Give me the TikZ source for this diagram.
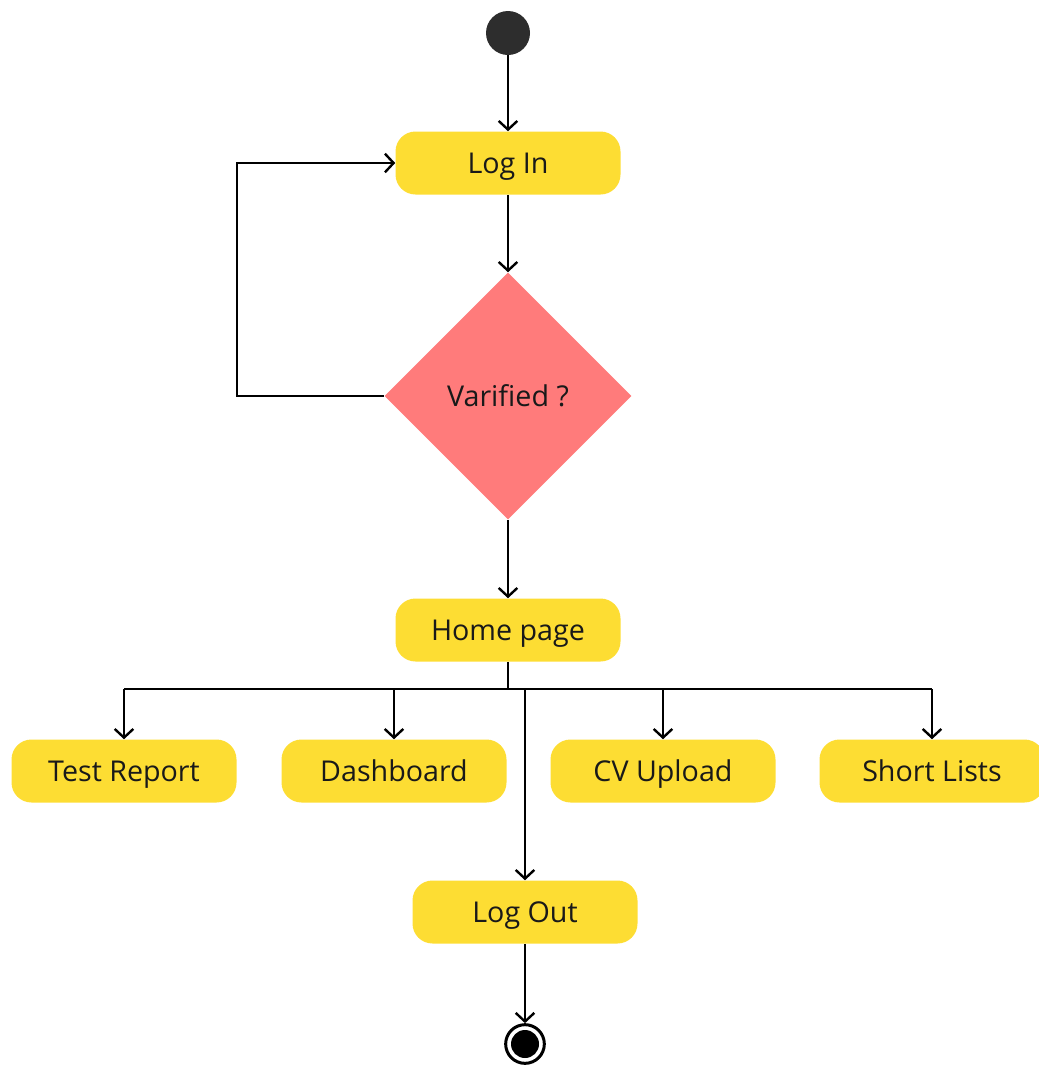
\documentclass[tikz,border=0pt]{standalone}
\usepackage{fontspec}
\setmainfont{Open Sans}
\usetikzlibrary{shapes.geometric, arrows.meta}

\definecolor{stepyellow}{HTML}{FDDD33}
\definecolor{checkred}{HTML}{FF7B7B}
\definecolor{startgray}{HTML}{2D2D2D}

\tikzset{
    stepbox/.style={rectangle, rounded corners=15pt, fill=stepyellow,
        minimum width=168.75pt, minimum height=47.25pt, inner sep=0pt,
        text height=15.2pt, text depth=0pt,
        font=\fontsize{21.5}{26}\selectfont, text=black!90},
    checkbox/.style={diamond, fill=checkred, minimum width=185.25pt,
        minimum height=185.25pt, inner sep=0pt, aspect=1,
        text height=15.2pt, text depth=0pt,
        font=\fontsize{21.5}{26}\selectfont, text=black!90},
    startstate/.style={circle, fill=startgray, minimum size=33pt, inner sep=0pt},
    endstate/.style={circle, draw=black, line width=2.25pt, fill=white,
        minimum size=29pt, inner sep=0pt,
        path picture={\fill[black] (path picture bounding box.center) circle[radius=10.5pt];}},
    link/.style={line width=1.8pt},
    flow/.style={link, -{Straight Barb[length=6.5pt, width=14pt]}}
}

\begin{document}
\begin{tikzpicture}[x=0.75pt, y=-0.75pt]

    % Page frame
    \useasboundingbox (0,0) rectangle (1039,1065);

    % Start and login
    \node[startstate] (start) at (508,33) {};
    \node[stepbox] (login) at (508,163) {Log In};

    % Verification check
    \node[checkbox] (check) at (508,396) {Varified ?};

    % Home page and its branches
    \node[stepbox] (home) at (508,630) {Home page};
    \coordinate (bus) at (508,689);
    \node[stepbox] (report) at (124,771) {Test Report};
    \node[stepbox] (dash) at (394,771) {Dashboard};
    \node[stepbox] (upload) at (663,771) {CV Upload};
    \node[stepbox] (lists) at (932,771) {Short Lists};

    % Logout and end state
    \node[stepbox] (logout) at (525,912) {Log Out};
    \node[endstate] (end) at (525,1044) {};

    % Main flow
    \draw[flow] (start) -- (login);
    \draw[flow] (login) -- (check.north);
    \draw[flow] (check.west) -- ++(-147,0) |- (login.west); % retry
    \draw[flow] (check.south) -- (home);

    % Branches off the home page
    \draw[link] (home) -- (bus);
    \draw[link] (report.north |- bus) -- (lists.north |- bus);
    \draw[flow] (report.north |- bus) -- (report.north);
    \draw[flow] (dash.north |- bus) -- (dash.north);
    \draw[flow] (upload.north |- bus) -- (upload.north);
    \draw[flow] (lists.north |- bus) -- (lists.north);
    \draw[flow] (logout.north |- bus) -- (logout.north);

    \draw[flow] (logout) -- (end);

\end{tikzpicture}
\end{document}
